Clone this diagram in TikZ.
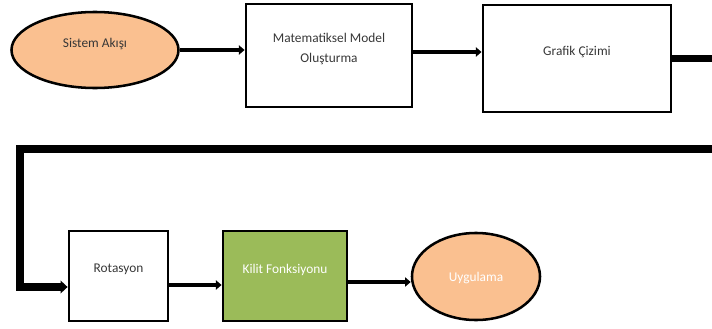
\documentclass[tikz,border=0pt]{standalone}
\usepackage{fontspec}
\setmainfont{Carlito}
\usetikzlibrary{shapes, arrows.meta, positioning, calc}
\definecolor{peach}{RGB}{250, 192, 144}
\definecolor{leafgreen}{RGB}{155, 187, 89}
\definecolor{inkgray}{RGB}{55, 55, 55}

\begin{document}
\begin{tikzpicture}[
  x=0.025cm, y=-0.025cm,
  box/.style={draw, line width=2pt, inner sep=0pt, align=center, text depth=0.38cm, text=inkgray, font=\fontsize{9.5}{14}\selectfont},
  blob/.style={ellipse, draw, line width=1.8pt, fill=peach, inner sep=0pt, align=center, text depth=0.38cm, text=inkgray, font=\fontsize{9.5}{14}\selectfont},
  arrow/.style={-{Triangle[length=4pt, width=6.5pt]}, line width=2.6pt},
  bigarrow/.style={-{Triangle[length=5pt, width=9pt]}, line width=5.6pt}
]
  \useasboundingbox (0,0) rectangle (712,329);

  % Top row
  \node[blob, minimum width=4.175cm, minimum height=1.9cm] (akis) at (95, 50) {Sistem Akışı};
  \node[box, minimum width=4.15cm, minimum height=2.575cm] (model) at (329, 55.5) {Matematiksel Model\\Oluşturma};
  \node[box, minimum width=4.7cm, minimum height=2.675cm] (grafik) at (577, 58.5) {Grafik Çizimi};

  \draw[arrow] (akis.east) -- (akis.east -| model.west);
  \draw[arrow] (model.east |- 0,52) -- (grafik.west |- 0,52);

  % Bottom row
  \node[box, minimum width=2.475cm, minimum height=2.25cm] (rot) at (118.5, 276) {Rotasyon};
  \node[box, fill=leafgreen, text=white, minimum width=3.1cm, minimum height=2.25cm] (kilit) at (285, 276) {Kilit Fonksiyonu};
  \node[blob, text=white, text depth=0pt, minimum width=3.2cm, minimum height=2.175cm] (uyg) at (476, 276.5) {Uygulama};

  \draw[arrow] (rot.east |- 0,285) -- (kilit.west |- 0,285);
  \draw[arrow] (kilit.east |- 0,282) -- (uyg.west |- 0,282);

  % Return line
  \coordinate (turn) at (730, 149);
  \coordinate (drop) at (20, 287);
  \draw[bigarrow] (grafik.east) -| (turn) -- (drop |- turn) -- (drop) -- (drop -| rot.west);
\end{tikzpicture}
\end{document}
